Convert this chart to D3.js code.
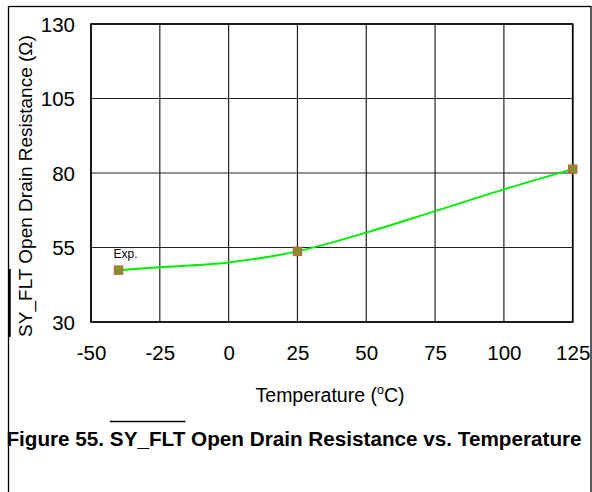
<!DOCTYPE html>
<html>
<head>
<meta charset="utf-8">
<script src="https://cdn.jsdelivr.net/npm/d3@7"></script>
<style>
  html, body { margin: 0; padding: 0; background: #fff; }
  svg { display: block; font-family: "Liberation Sans", Arial, Helvetica, sans-serif; }
</style>
</head>
<body>
<svg id="chart" width="592" height="492"></svg>
<script>
// ---- data ----
const xTicks = [-50, -25, 0, 25, 50, 75, 100, 125];
const yTicks = [30, 55, 80, 105, 130];
const measTemp = [-40, 25, 125];            // measured points (markers)
const measRes  = [47.4, 53.7, 81.3];
const curveTemp = [-40, -25, 0, 25, 50, 75, 100, 125];   // fitted curve
const curveRes  = [47.4, 48.4, 50.0, 53.7, 60.0, 67.2, 74.5, 81.3];
const seriesLabel = "Exp.";
const xTitle = "Temperature (";
const yTitle = "SY_FLT Open Drain Resistance (Ω)";
const figTitle = "Figure 55. SY_FLT Open Drain Resistance vs. Temperature";

// ---- layout ----
const svg = d3.select("#chart");
const L = 91, R = 572.7, T = 24, B = 322;
const x = d3.scaleLinear().domain([-50, 125]).range([L, R]);
const y = d3.scaleLinear().domain([30, 130]).range([B, T]);

// outer border
svg.append("rect").attr("x", 8.5).attr("y", 6.5).attr("width", 582.5).attr("height", 600)
  .attr("fill", "none").attr("stroke", "#000").attr("stroke-width", 1.3);

// grid
const g = svg.append("g");
g.selectAll(".vg").data(xTicks).join("line")
  .attr("x1", d => x(d)).attr("x2", d => x(d)).attr("y1", T).attr("y2", B)
  .attr("stroke", "#222").attr("stroke-width", 1.2);
g.selectAll(".hg").data(yTicks).join("line")
  .attr("y1", d => y(d)).attr("y2", d => y(d)).attr("x1", L).attr("x2", R)
  .attr("stroke", "#222").attr("stroke-width", 1.2);
// frame
svg.append("rect").attr("x", L).attr("y", T).attr("width", R - L).attr("height", B - T)
  .attr("fill", "none").attr("stroke", "#000").attr("stroke-width", 1.6);

// axes (labels only)
const fmt = d => String(d);
const xAxis = d3.axisBottom(x).tickValues(xTicks).tickSize(0).tickPadding(0).tickFormat(fmt);
const xa = svg.append("g").attr("transform", `translate(0,${B})`).call(xAxis);
xa.select(".domain").remove();
xa.selectAll("text").attr("font-size", 20.5).attr("fill", "#000")
  .attr("dy", null).attr("y", 38);

const yAxis = d3.axisLeft(y).tickValues(yTicks).tickSize(0).tickPadding(0).tickFormat(fmt);
const ya = svg.append("g").attr("transform", `translate(75,0)`).call(yAxis);
ya.select(".domain").remove();
ya.selectAll("text").attr("font-size", 20.5).attr("fill", "#000")
  .attr("dy", "0.36em");
svg.selectAll(".tick text").attr("font-family", "Liberation Sans, Arial, sans-serif");

// x title
const xt = svg.append("text").attr("x", 330).attr("y", 402).attr("text-anchor", "middle")
  .attr("font-size", 19.5).attr("fill", "#000");
xt.append("tspan").text(xTitle);
xt.append("tspan").attr("font-size", 12.5).attr("dy", -8).text("o");
xt.append("tspan").attr("dy", 8).text("C)");

// y title (rotated)
const yt = svg.append("text").attr("transform", "translate(31.5,186) rotate(-90)")
  .attr("text-anchor", "middle").attr("font-size", 19).attr("fill", "#000").text(yTitle);
{
  const node = yt.node();
  const total = node.getComputedTextLength();
  const sub = node.getSubStringLength(0, 6);
  // overline above "SY_FLT" (appears at left side after rotation)
  svg.append("line").attr("x1", 9.5).attr("x2", 9.5)
    .attr("y1", 186 + total / 2).attr("y2", 186 + total / 2 - sub)
    .attr("stroke", "#000").attr("stroke-width", 2.5);
}

// figure title
const ft = svg.append("text").attr("x", 294).attr("y", 446).attr("text-anchor", "middle")
  .attr("font-size", 20.7).attr("font-weight", "bold").attr("fill", "#000").text(figTitle);
{
  const node = ft.node();
  const total = node.getComputedTextLength();
  const start = 294 - total / 2;
  const a = node.getSubStringLength(0, 11);
  const b = node.getSubStringLength(11, 6);
  svg.append("line").attr("x1", start + a).attr("x2", start + a + b)
    .attr("y1", 421.5).attr("y2", 421.5).attr("stroke", "#000").attr("stroke-width", 1.3);
}

// curve
const curveData = curveTemp.map((t, i) => [t, curveRes[i]]);
svg.append("path").datum(curveData)
  .attr("d", d3.line().x(d => x(d[0])).y(d => y(d[1])).curve(d3.curveCatmullRom.alpha(0.5)))
  .attr("fill", "none").attr("stroke", "#00ee00").attr("stroke-width", 2);

// markers
const measData = measTemp.map((t, i) => [t, measRes[i]]);
svg.selectAll(".mk").data(measData).join("rect")
  .attr("x", d => x(d[0]) - 4).attr("y", d => y(d[1]) - 4)
  .attr("width", 8).attr("height", 8)
  .attr("fill", "#8c8c2c").attr("stroke", "#a8743e").attr("stroke-width", 1.5);

// series label
svg.append("text").attr("x", x(measTemp[0]) - 5).attr("y", y(measRes[0]) - 12)
  .attr("font-size", 12).attr("fill", "#000").text(seriesLabel);
</script>
</body>
</html>
